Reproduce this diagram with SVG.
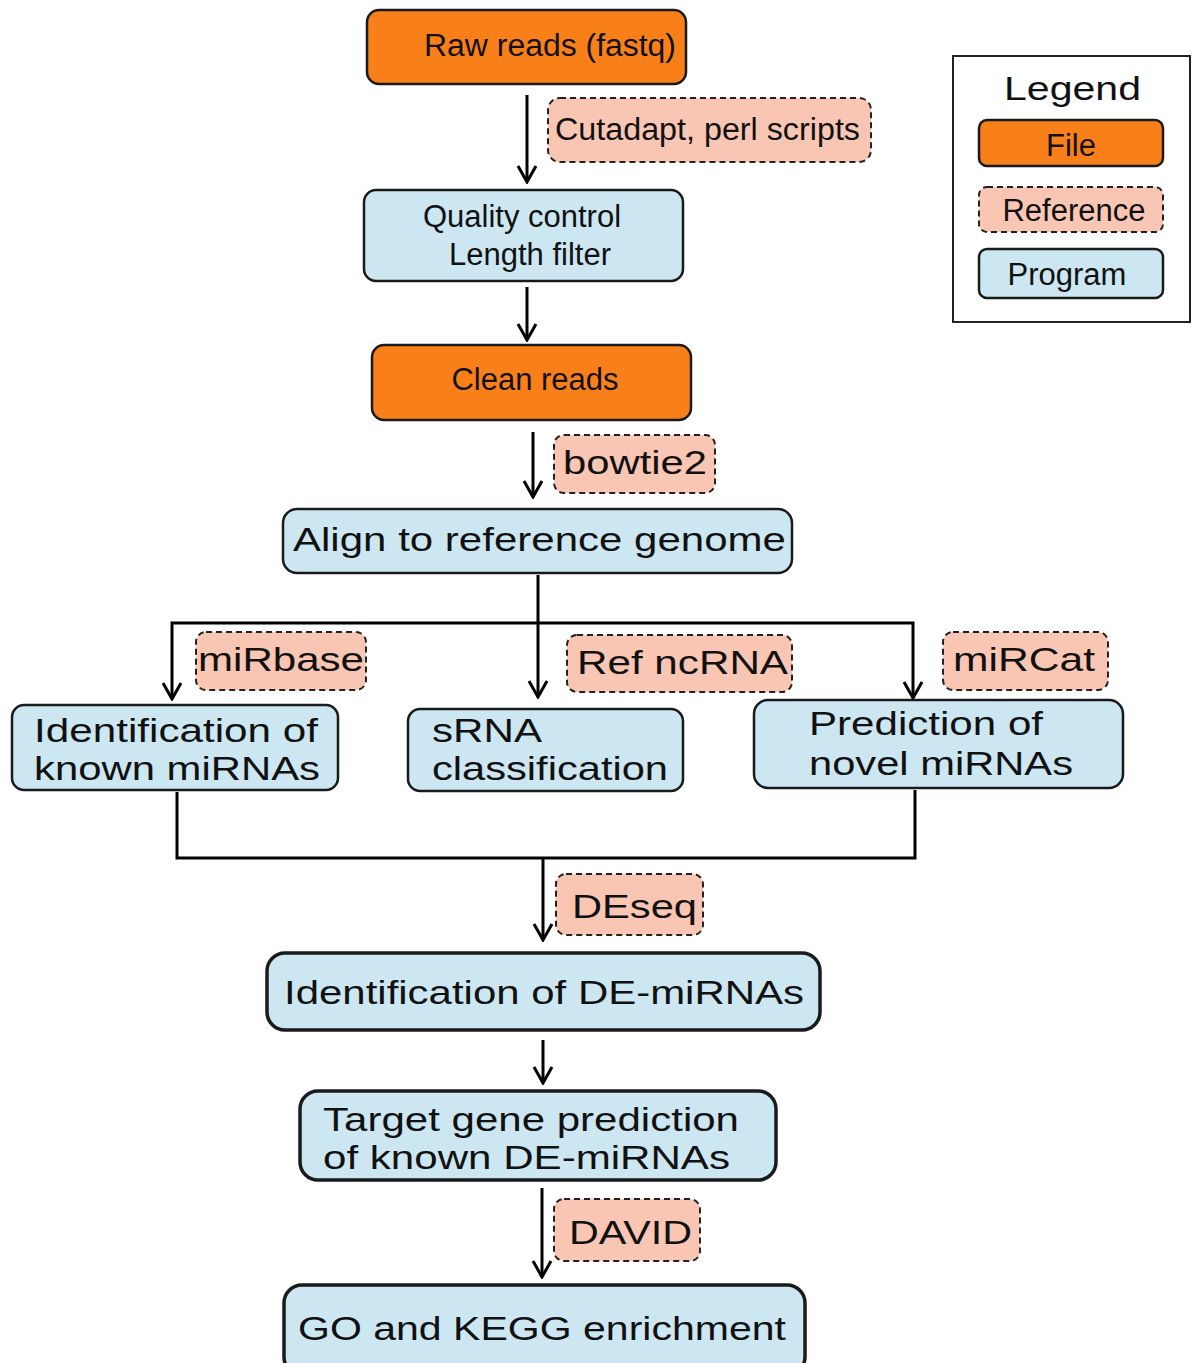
<svg xmlns="http://www.w3.org/2000/svg" width="1192" height="1363" viewBox="0 0 1192 1363">
<defs>
<marker id="arr" viewBox="0 0 22 22" refX="20" refY="11" markerWidth="22" markerHeight="22" markerUnits="userSpaceOnUse" orient="auto-start-reverse">
<path d="M4,2 L20,11 L4,20" fill="none" stroke="#000" stroke-width="3"/>
</marker>
<style>
.file{fill:#F98019;stroke:#1a1a1a;stroke-width:2.5}
.ref{fill:#F9C6B4;stroke:#222;stroke-width:2;stroke-dasharray:6 4}
.prog{fill:#CDE7F2;stroke:#1a1a1a;stroke-width:2.5}
.prog2{fill:#CDE7F2;stroke:#1a1a1a;stroke-width:3.5}
text{font-family:"Liberation Sans",Arial,sans-serif;fill:#111}
.t32{font-size:31px}
.t33{font-size:33px}
.c{text-anchor:middle}
.ln{fill:none;stroke:#000;stroke-width:3}
</style>
</defs>
<rect width="1192" height="1363" fill="#fff"/>

<g id="connectors">
<line class="ln" x1="527" y1="95" x2="527" y2="182" marker-end="url(#arr)"/>
<line class="ln" x1="527" y1="287" x2="527" y2="340" marker-end="url(#arr)"/>
<line class="ln" x1="533" y1="432" x2="533" y2="497" marker-end="url(#arr)"/>
<line class="ln" x1="538" y1="575" x2="538" y2="697" marker-end="url(#arr)"/>
<polyline class="ln" points="172,699 172,623 913,623 913,698" marker-start="url(#arr)" marker-end="url(#arr)"/>
<polyline class="ln" points="177,792 177,858 915,858 915,790"/>
<line class="ln" x1="543" y1="858" x2="543" y2="940" marker-end="url(#arr)"/>
<line class="ln" x1="543" y1="1040" x2="543" y2="1083" marker-end="url(#arr)"/>
<line class="ln" x1="542" y1="1188" x2="542" y2="1277" marker-end="url(#arr)"/>
</g>

<g id="raw">
<rect class="file" x="367" y="10" width="319" height="74" rx="12"/>
<text class="t32" x="424" y="56" textLength="252" lengthAdjust="spacingAndGlyphs">Raw reads (fastq)</text>
</g>
<g id="cutadapt">
<rect class="ref" x="548" y="98" width="323" height="64" rx="12"/>
<text class="t32" x="555" y="140" textLength="305" lengthAdjust="spacingAndGlyphs">Cutadapt, perl scripts</text>
</g>
<g id="qc">
<rect class="prog" x="364" y="190" width="319" height="91" rx="12"/>
<text class="t32 c" x="522" y="227">Quality control</text>
<text class="t32 c" x="530" y="265">Length filter</text>
</g>
<g id="clean">
<rect class="file" x="372" y="345" width="319" height="75" rx="12"/>
<text class="t32 c" x="535" y="390">Clean reads</text>
</g>
<g id="bowtie2">
<rect class="ref" x="554" y="435" width="161" height="58" rx="10"/>
<text class="t33" x="563" y="474" textLength="144" lengthAdjust="spacingAndGlyphs">bowtie2</text>
</g>
<g id="align">
<rect class="prog" x="283" y="509" width="509" height="64" rx="14"/>
<text class="t33" x="293" y="551" textLength="493" lengthAdjust="spacingAndGlyphs">Align to reference genome</text>
</g>
<g id="mirbase">
<rect class="ref" x="196" y="632" width="170" height="58" rx="10"/>
<text class="t33" x="198" y="671" textLength="166" lengthAdjust="spacingAndGlyphs">miRbase</text>
</g>
<g id="refncrna">
<rect class="ref" x="567" y="635" width="225" height="57" rx="10"/>
<text class="t33" x="577" y="674" textLength="211" lengthAdjust="spacingAndGlyphs">Ref ncRNA</text>
</g>
<g id="mircat">
<rect class="ref" x="943" y="632" width="165" height="58" rx="10"/>
<text class="t33" x="953" y="671" textLength="142" lengthAdjust="spacingAndGlyphs">miRCat</text>
</g>
<g id="known">
<rect class="prog" x="12" y="705" width="326" height="85" rx="12"/>
<text class="t33" x="34" y="742" textLength="284" lengthAdjust="spacingAndGlyphs">Identification of</text>
<text class="t33" x="34" y="780" textLength="286" lengthAdjust="spacingAndGlyphs">known miRNAs</text>
</g>
<g id="srna">
<rect class="prog" x="408" y="709" width="275" height="82" rx="12"/>
<text class="t33" x="432" y="742" textLength="110" lengthAdjust="spacingAndGlyphs">sRNA</text>
<text class="t33" x="432" y="780" textLength="236" lengthAdjust="spacingAndGlyphs">classification</text>
</g>
<g id="novel">
<rect class="prog" x="754" y="700" width="369" height="88" rx="14"/>
<text class="t33" x="809" y="735" textLength="234" lengthAdjust="spacingAndGlyphs">Prediction of</text>
<text class="t33" x="809" y="775" textLength="264" lengthAdjust="spacingAndGlyphs">novel miRNAs</text>
</g>
<g id="deseq">
<rect class="ref" x="556" y="874" width="147" height="61" rx="10"/>
<text class="t33" x="572" y="918" textLength="125" lengthAdjust="spacingAndGlyphs">DEseq</text>
</g>
<g id="demirna">
<rect class="prog2" x="267" y="953" width="553" height="77" rx="18"/>
<text class="t33" x="284" y="1004" textLength="520" lengthAdjust="spacingAndGlyphs">Identification of DE-miRNAs</text>
</g>
<g id="target">
<rect class="prog2" x="300" y="1091" width="476" height="89" rx="18"/>
<text class="t33" x="323" y="1131" textLength="416" lengthAdjust="spacingAndGlyphs">Target gene prediction</text>
<text class="t33" x="323" y="1169" textLength="407" lengthAdjust="spacingAndGlyphs">of known DE-miRNAs</text>
</g>
<g id="david">
<rect class="ref" x="554" y="1199" width="146" height="62" rx="10"/>
<text class="t33" x="569" y="1244" textLength="123" lengthAdjust="spacingAndGlyphs">DAVID</text>
</g>
<g id="enrich">
<rect class="prog2" x="284" y="1285" width="521" height="90" rx="18"/>
<text class="t33" x="298" y="1340" textLength="488" lengthAdjust="spacingAndGlyphs">GO and KEGG enrichment</text>
</g>

<g id="legend">
<rect x="953" y="56" width="237" height="266" fill="#fff" stroke="#222" stroke-width="2"/>
<text x="1004" y="100" font-size="33" textLength="137" lengthAdjust="spacingAndGlyphs">Legend</text>
<rect class="file" x="979" y="120" width="184" height="46" rx="8"/>
<text class="t32 c" x="1071" y="156">File</text>
<rect class="ref" x="979" y="187" width="184" height="45" rx="8"/>
<text class="t32 c" x="1074" y="221">Reference</text>
<rect class="prog" x="979" y="249" width="184" height="49" rx="8"/>
<text class="t32 c" x="1067" y="285">Program</text>
</g>
</svg>
